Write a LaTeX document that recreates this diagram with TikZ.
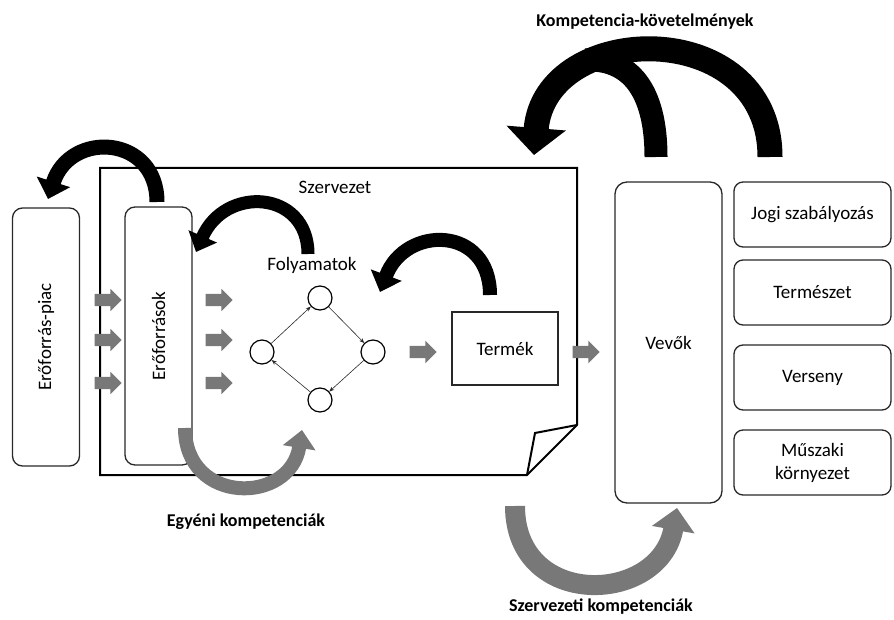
\documentclass[tikz,border=0pt]{standalone}
\usepackage{fontspec}
\setmainfont{Carlito}
\definecolor{kgray}{RGB}{120,120,120}
\definecolor{kdark}{RGB}{40,40,40}
\usetikzlibrary{arrows.meta,positioning,shapes.arrows}

\begin{document}
\begin{tikzpicture}[x=1pt,y=-1pt,
    font=\fontsize{19}{23}\selectfont,
    tallbox/.style={rectangle, rounded corners=10pt, draw=kdark, line width=1.3pt,
                rotate=90, minimum width=258pt, minimum height=67pt, inner sep=0pt},
    envbox/.style={rectangle, rounded corners=9pt, draw=kdark, line width=1.3pt,
                minimum width=157pt, minimum height=65pt, align=center, inner sep=0pt},
    proc/.style={circle, draw=black, line width=1.2pt, minimum size=24pt, inner sep=0pt},
    flow/.style={kdark, line width=0.6pt, -{Stealth[length=5pt,width=4pt]}},
    blk/.style={single arrow, fill=kgray, draw=none, minimum height=27pt,
                inner xsep=0pt, inner ysep=6pt, single arrow head extend=5pt},
    lbl/.style={font=\fontsize{18}{22}\selectfont\bfseries}
  ]
    \useasboundingbox (0,0) rectangle (894,620);

    % Szervezet (folded sheet)
    \draw[line width=2pt, line join=miter]
      (100,168) -- (577,168) -- (577,425) -- (527,475) -- (100,475) -- cycle;
    \draw[line width=2pt, line join=miter] (577,425) -- (535,433) -- (527,475);
    \node (szerv) at (335,187) {Szervezet};

    % Inputs
    \node[tallbox] (piac) at (46,337) {Erőforrás-piac};
    \node[tallbox] (eroforr) at (158.5,336) {Erőforrások};

    % Processes
    \node (folyam) at (312,265) {Folyamatok};
    \node[proc] (ctop)   at (320,298) {};
    \node[proc] (cleft)  at (262,352) {};
    \node[proc] (cright) at (373,352) {};
    \node[proc] (cbot)   at (320,400) {};
    \draw[flow] (cleft)  -- (ctop);
    \draw[flow] (ctop)   -- (cright);
    \draw[flow] (cright) -- (cbot);
    \draw[flow] (cbot)   -- (cleft);

    % Product and customers
    \node[draw=kdark, line width=1.3pt, minimum width=106pt, minimum height=73pt] (termek) at (505,348.5) {Termék};
    \node[rectangle, rounded corners=12pt, draw=kdark, line width=1.3pt,
          minimum width=107pt, minimum height=321pt] (vevok) at (668.5,342.5) {Vevők};

    % Environment
    \node[envbox] (jogi)  at (812.5,214.5) {Jogi szabályozás};
    \node[envbox] (term)  at (812.5,292.5) {Természet};
    \node[envbox] (vers)  at (812.5,377.5) {Verseny};
    \node[envbox] (musz)  at (812.5,462.5) {Műszaki\\környezet};

    % Grey block arrows
    \foreach \y [count=\i] in {300,340,383}{
      \node[blk] (ina\i) at (105,\y) {};
      \node[blk] (inb\i) at (216,\y) {};
    }
    \node[blk] (outa) at (420,352) {};
    \node[blk] (outb) at (583,352) {};

    % Feedback arrows
    \coordinate (f1s) at (157,202);
    \coordinate (f1e) at (48,199);
    \coordinate (f2s) at (308,254);
    \coordinate (f2e) at (196,252);
    \coordinate (f3s) at (490,295);
    \coordinate (f3e) at (380,292);
    \draw[line width=15pt, -{Triangle[width=34pt,length=18pt]}]
      (f1s) .. controls (157,135) and (70,130) .. (f1e);
    \draw[line width=13pt, -{Triangle[width=30pt,length=17pt]}]
      (f2s) .. controls (308,190) and (225,185) .. (f2e);
    \draw[line width=14pt, -{Triangle[width=32pt,length=18pt]}]
      (f3s) .. controls (490,225) and (405,225) .. (f3e);

    % Kompetencia-követelmények
    \coordinate (kout) at (770,157);
    \coordinate (kin)  at (656,157);
    \coordinate (kend) at (534,155);
    \draw[line width=23pt] (kin) .. controls (656,90) and (630,58) .. (585,60);
    \draw[line width=25pt, -{Triangle[width=58pt,length=27pt]}]
      (kout) .. controls (770,15) and (545,20) .. (kend);
    \node[lbl] (kovet) at (645,22) {Kompetencia-követelmények};

    % Competences
    \coordinate (e1) at (185,428);
    \coordinate (e2) at (302,430);
    \draw[kgray, line width=14pt, -{Triangle[width=32pt,length=18pt]}]
      (e1) .. controls (185,505) and (290,505) .. (e2);
    \node[lbl] (egyeni) at (246,522) {Egyéni kompetenciák};

    \coordinate (s1) at (515,506);
    \coordinate (s2) at (677,508);
    \draw[kgray, line width=20pt, -{Triangle[width=42pt,length=22pt]}]
      (s1) .. controls (515,610) and (660,605) .. (s2);
    \node[lbl] (szervk) at (601,607) {Szervezeti kompetenciák};
  \end{tikzpicture}
\end{document}
